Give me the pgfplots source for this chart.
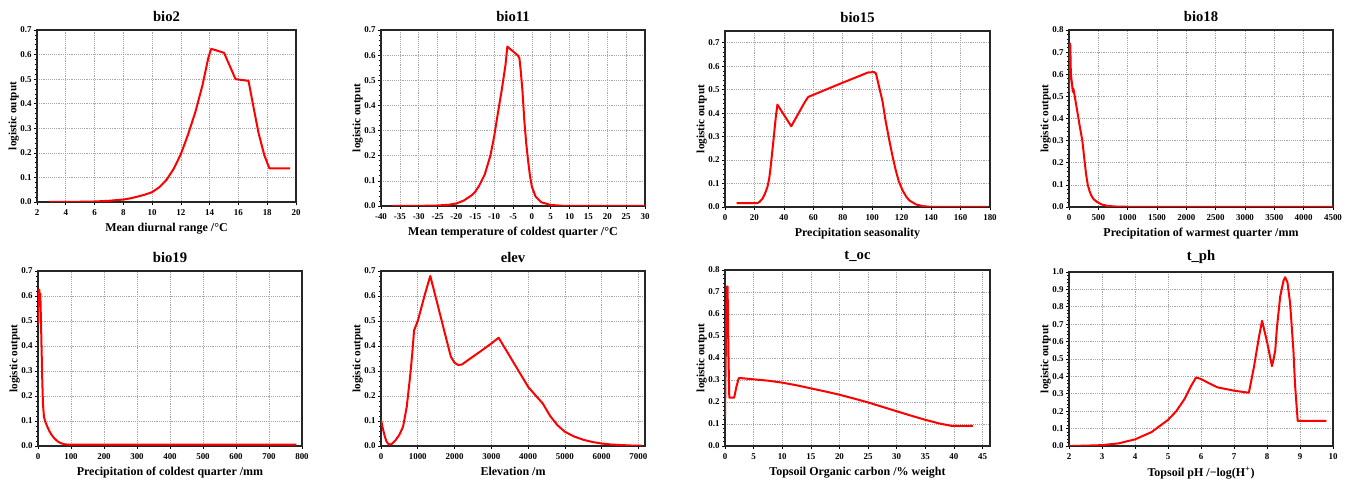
\documentclass[border=0pt]{standalone}
\usepackage{fontspec}
\setmainfont{Liberation Serif}
\usepackage{pgfplots}
\pgfplotsset{compat=1.18}

\pgfplotsset{
  resp/.style={
    scale only axis, anchor=south west,
    axis line style={black!85, line width=0.8pt},
    grid=major, grid style={densely dotted, gray!70, line width=0.45pt},
    tick align=outside, tick pos=left,
    major tick length=2pt, minor tick length=1.2pt,
    every tick/.style={black, line width=0.5pt},
    minor y tick num=4,
    ymin=0,
    title style={font=\fontsize{11}{13}\selectfont\bfseries, yshift=-3pt},
    label style={font=\fontsize{9}{10}\selectfont\bfseries},
    tick label style={font=\fontsize{6.7}{8}\selectfont\bfseries},
    /pgf/number format/assume math mode=true,
    /pgf/number format/set thousands separator={},
    yticklabel style={/pgf/number format/fixed, /pgf/number format/fixed zerofill,
      /pgf/number format/precision=1, xshift=1.5pt},
    scaled ticks=false,
    ylabel={logistic output},
    ylabel style={at={(axis description cs:0,0.5)}, anchor=center, yshift=17.5pt,
      font=\fontsize{8.4}{9}\selectfont\bfseries},
    xlabel style={yshift=1pt},
  },
  curve/.style={red, line width=1.5pt, line join=round, no marks}
}

\begin{document}
\begin{tikzpicture}
\path[use as bounding box] (0,0) rectangle (1014pt,363.75pt);

% ---- row 1
\begin{axis}[resp, at={(27.75pt,212.25pt)}, width=194.25pt, height=129pt,
  title={bio2}, xlabel={Mean diurnal range /\textdegree C},
  xmin=2, xmax=20, xtick={2,4,...,20}, ymax=0.7, ytick={0,0.1,...,0.7}]
\addplot[curve] coordinates {
(2.85,0) (4,0.0005) (5,0.001) (6,0.002) (7,0.005) (8,0.010) (8.5,0.015) (9,0.022)
(9.5,0.030) (10,0.040) (10.5,0.060) (11,0.090) (11.5,0.135) (12,0.195) (12.5,0.275)
(13,0.365) (13.5,0.475) (13.9,0.585) (14.1,0.623) (14.3,0.620) (15.0,0.607)
(15.8,0.500) (16.7,0.493) (17.0,0.400) (17.4,0.280) (17.8,0.190) (18.15,0.137) (19.6,0.137)};
\end{axis}

\begin{axis}[resp, at={(285.75pt,209.25pt)}, width=198pt, height=132pt,
  title={bio11}, xlabel={Mean temperature of coldest quarter /\textdegree C},
  xmin=-40, xmax=30, xtick={-40,-35,...,30}, ymax=0.7, ytick={0,0.1,...,0.7}]
\addplot[curve] coordinates {
(-37,0) (-30,0.0005) (-25,0.002) (-22,0.005) (-20,0.010) (-18,0.022) (-16,0.042)
(-15,0.057) (-14,0.080) (-12.5,0.125) (-11,0.200) (-10,0.276) (-9,0.370) (-8,0.460)
(-7,0.560) (-6.5,0.634) (-5,0.615) (-3.8,0.600) (-3.3,0.588) (-3.0,0.545) (-2.5,0.460)
(-2.0,0.340) (-1.5,0.250) (-1.0,0.180) (-0.5,0.120) (0,0.077) (1,0.037) (2.5,0.015)
(5,0.004) (8,0.001) (12,0) (30,0)};
\end{axis}

\begin{axis}[resp, at={(543.75pt,208.5pt)}, width=198.75pt, height=132pt,
  title={bio15}, xlabel={Precipitation seasonality},
  xmin=0, xmax=180, xtick={0,20,...,180}, ymax=0.75, ytick={0,0.1,...,0.7}]
\addplot[curve] coordinates {
(7.9,0.017) (22,0.017) (23.5,0.022) (25.4,0.035) (27,0.055) (28.8,0.085) (30,0.12)
(31,0.17) (32,0.23) (32.9,0.284) (33.8,0.34) (34.5,0.383) (35.6,0.436) (45,0.344)
(50,0.40) (54,0.445) (56.5,0.469) (60,0.478) (70,0.504) (80,0.530) (90,0.555)
(97,0.573) (101,0.575) (102.5,0.57) (104,0.53) (105.5,0.49) (107,0.45) (109,0.37)
(111.6,0.284) (114,0.21) (116,0.156) (118,0.11) (120.6,0.071) (123,0.045) (125.2,0.028)
(129.7,0.011) (134,0.004) (139,0.001) (150,0) (178.5,0)};
\end{axis}

\begin{axis}[resp, at={(801.75pt,208.5pt)}, width=198pt, height=132.75pt,
  title={bio18}, xlabel={Precipitation of warmest quarter /mm},
  xmin=0, xmax=4500, xtick={0,500,...,4500}, ymax=0.8, ytick={0,0.1,...,0.8}]
\addplot[curve] coordinates {
(0,0.52) (8,0.70) (15,0.74) (22,0.73) (30,0.62) (40,0.58) (50,0.56) (57,0.54)
(65,0.52) (74,0.535) (85,0.52) (130,0.45) (180,0.37) (227,0.30) (260,0.22) (290,0.15)
(320,0.10) (350,0.072) (380,0.052) (420,0.035) (482,0.022) (550,0.012) (650,0.005)
(800,0.002) (1000,0.001) (4500,0.001)};
\end{axis}

% ---- row 2
\begin{axis}[resp, at={(28.5pt,29.25pt)}, width=198pt, height=131.25pt,
  title={bio19}, xlabel={Precipitation of coldest quarter /mm},
  xmin=0, xmax=800, xtick={0,100,...,800}, ymax=0.7, ytick={0,0.1,...,0.7}]
\addplot[curve] coordinates {
(0,0.49) (1.5,0.625) (3,0.60) (4,0.625) (5.5,0.58) (7,0.61) (9,0.50) (11,0.38)
(13,0.26) (15,0.17) (18,0.117) (22,0.098) (28,0.078) (35,0.058) (42,0.043) (50,0.03)
(60,0.018) (70,0.011) (80,0.007) (95,0.005) (783,0.005)};
\end{axis}

\begin{axis}[resp, at={(285.75pt,29.25pt)}, width=198pt, height=131.25pt,
  title={elev}, xlabel={Elevation /m},
  xmin=0, xmax=7180, xtick={0,1000,...,7000}, ymax=0.7, ytick={0,0.1,...,0.7}]
\addplot[curve] coordinates {
(0,0.105) (50,0.07) (100,0.04) (150,0.018) (200,0.008) (250,0.006) (300,0.009)
(400,0.024) (500,0.045) (600,0.077) (700,0.157) (800,0.29) (850,0.37) (900,0.463)
(1000,0.50) (1100,0.555) (1200,0.61) (1340,0.68) (1450,0.617) (1600,0.53) (1750,0.443)
(1900,0.357) (2000,0.333) (2100,0.324) (2200,0.326) (2400,0.347) (2700,0.378)
(3000,0.41) (3200,0.433) (3600,0.335) (4000,0.237) (4200,0.203) (4400,0.17) (4600,0.12)
(4800,0.083) (5000,0.057) (5250,0.038) (5500,0.025) (5750,0.016) (6000,0.01)
(6250,0.006) (6500,0.004) (6800,0.002) (7100,0.001)};
\end{axis}

\begin{axis}[resp, at={(543.75pt,29.25pt)}, width=198.75pt, height=132pt,
  title={t\_oc}, xlabel={Topsoil Organic carbon /\% weight},
  xmin=0, xmax=46.3, xtick={0,5,...,45}, ymax=0.8, ytick={0,0.1,...,0.8}]
\addplot[curve] coordinates {
(0,0.13) (0.15,0.45) (0.3,0.725) (0.45,0.725) (0.6,0.42) (0.75,0.22) (1.6,0.22)
(2.0,0.27) (2.4,0.308) (3,0.308) (5,0.303) (7.5,0.297) (10,0.288) (12.5,0.276)
(15,0.262) (17.5,0.248) (20,0.233) (22.5,0.216) (25,0.198) (27.5,0.178) (30,0.158)
(32.5,0.138) (35,0.119) (37.5,0.102) (39.5,0.092) (43.3,0.092)};
\end{axis}

\begin{axis}[resp, at={(801.75pt,29.25pt)}, width=198pt, height=130.5pt,
  title={t\_ph}, xlabel={Topsoil pH /−log(H\textsuperscript{+})},
  xmin=2, xmax=10, xtick={2,3,...,10}, ymax=1.0, ytick={0,0.1,...,1.0}]
\addplot[curve] coordinates {
(2,0) (2.5,0.002) (3,0.005) (3.5,0.015) (4,0.038) (4.5,0.08) (5,0.15) (5.25,0.20)
(5.5,0.27) (5.7,0.345) (5.85,0.394) (6.0,0.385) (6.25,0.36) (6.5,0.337) (7.0,0.318)
(7.45,0.306) (7.6,0.45) (7.75,0.62) (7.85,0.72) (8.0,0.60) (8.15,0.459) (8.2,0.50)
(8.25,0.55) (8.3,0.68) (8.4,0.86) (8.5,0.95) (8.55,0.97) (8.62,0.94) (8.7,0.82)
(8.8,0.55) (8.85,0.35) (8.93,0.145) (9.8,0.145)};
\end{axis}
\end{tikzpicture}
\end{document}
